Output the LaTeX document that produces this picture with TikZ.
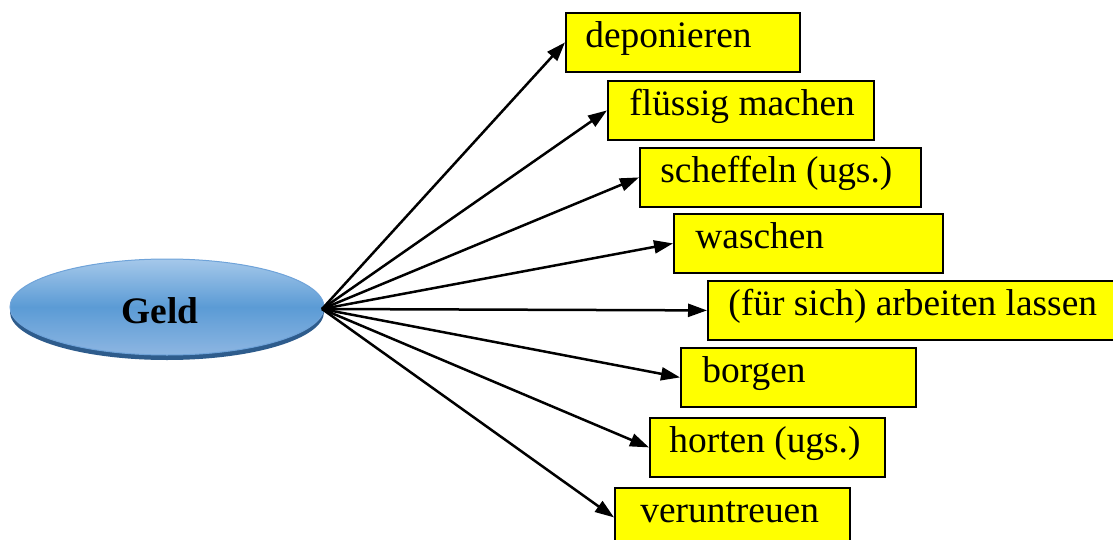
\documentclass[tikz,border=0pt]{standalone}
\usepackage{fontspec}
\setmainfont{Liberation Serif}
\usetikzlibrary{arrows.meta,shapes.geometric}
\definecolor{geldtop}{HTML}{A5C8EA}
\definecolor{geldmid}{HTML}{5B9BD5}
\definecolor{geldbot}{HTML}{8DB6E2}
\definecolor{geldrim}{HTML}{2E5C8C}
\definecolor{geldline}{HTML}{6FA3D9}
\definecolor{boxyellow}{HTML}{FFFF00}
\begin{document}
\begin{tikzpicture}[x=0.5pt,y=-0.5pt,
  txt/.style={font=\fontsize{18.7}{22}\selectfont, inner sep=0pt},
  wordbox/.style={draw=black, line width=0.9pt, fill=boxyellow, anchor=north west,
    minimum height=29.5pt, inner sep=0pt},
  lbl/.style={txt, anchor=base west},
  arr/.style={line width=1.25pt, -{Triangle[length=9.5pt,width=6.5pt]}},
  geldshadow/.style={ellipse, fill=geldrim, minimum width=157pt, minimum height=48pt, inner sep=0pt},
  geldnode/.style={ellipse, draw=geldline, line width=0.5pt, top color=geldtop, bottom color=geldbot,
    middle color=geldmid, minimum width=157pt, minimum height=48pt, inner sep=0pt}]
\useasboundingbox (0,0) rectangle (1113,540);
% central ellipse
\node[geldshadow] (gs) at (167,312) {};
\node[geldnode] (g) at (167,307) {};
\node[txt, font=\fontsize{18.7}{22}\selectfont\bfseries, anchor=base] (gt) at (160,323) {Geld};
\coordinate (src) at (322,309);
% boxes
\node[wordbox, minimum width=117pt] (b1) at (565,12) {};
\node[wordbox, minimum width=133pt] (b2) at (607,80) {};
\node[wordbox, minimum width=140.5pt] (b3) at (639,147) {};
\node[wordbox, minimum width=134.5pt] (b4) at (673,213) {};
\node[wordbox, minimum width=203pt] (b5) at (707,280) {};
\node[wordbox, minimum width=117.5pt] (b6) at (680,347) {};
\node[wordbox, minimum width=117.5pt] (b7) at (649,417) {};
\node[wordbox, minimum width=117.5pt] (b8) at (614,487) {};
% labels
\node[lbl] (t1) at ([xshift=10pt,yshift=-17.8pt]b1.north west) {deponieren};
\node[lbl] (t2) at ([xshift=11pt,yshift=-17.8pt]b2.north west) {flüssig machen};
\node[lbl] (t3) at ([xshift=10.5pt,yshift=-17.8pt]b3.north west) {scheffeln (ugs.)};
\node[lbl] (t4) at ([xshift=11pt,yshift=-17.8pt]b4.north west) {waschen};
\node[lbl] (t5) at ([xshift=10.5pt,yshift=-17.8pt]b5.north west) {(für sich) arbeiten lassen};
\node[lbl] (t6) at ([xshift=11pt,yshift=-17.8pt]b6.north west) {borgen};
\node[lbl] (t7) at ([xshift=10pt,yshift=-17.8pt]b7.north west) {horten (ugs.)};
\node[lbl] (t8) at ([xshift=13pt,yshift=-17.8pt]b8.north west) {veruntreuen};
% arrows
\foreach \b in {b1,b2,b3,b4,b5,b6,b7,b8}
  \draw[arr] (src) -- (\b.west);
\end{tikzpicture}
\end{document}
